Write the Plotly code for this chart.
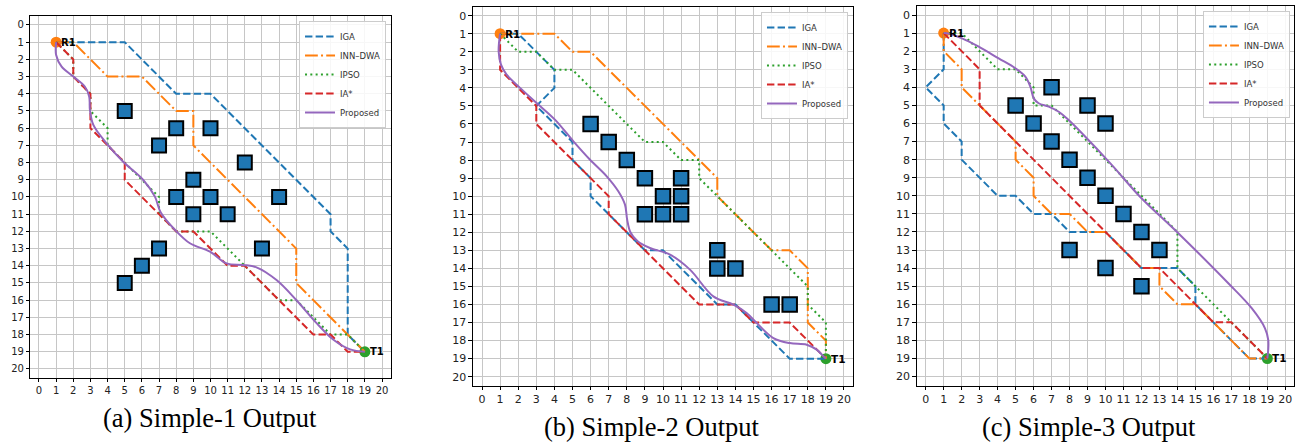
import plotly.graph_objects as go

# ---------------- data ----------------
start = [1, 1]
goal = [19, 19]
ticks = list(range(0, 21))
names = ["IGA", "INN–DWA", "IPSO", "IA*", "Proposed"]

# Simple-1
s1_obs_x = [5, 8, 10, 7, 12, 9, 8, 10, 14, 9, 11, 7, 13, 6, 5]
s1_obs_y = [5, 6, 6, 7, 8, 9, 10, 10, 10, 11, 11, 13, 13, 14, 15]
s1_iga_x = [1, 5, 8, 10, 17, 17, 18, 18, 19]
s1_iga_y = [1, 1, 4, 4, 11, 12, 13, 18, 19]
s1_dwa_x = [1, 2, 4, 6, 8, 9, 9, 15, 15, 19]
s1_dwa_y = [1, 1, 3, 3, 5, 5, 7, 13, 15, 19]
s1_pso_x = [1, 2, 2, 3, 3, 4, 4, 5, 7, 7, 8, 10, 12, 14, 15, 17, 18, 19]
s1_pso_y = [1, 2, 3, 4, 5, 6, 7, 8, 10, 11, 12, 12, 14, 16, 16, 18, 18, 19]
s1_ia_x = [1, 2, 2, 3, 3, 5, 5, 8, 9, 11, 12, 16, 17, 18, 19]
s1_ia_y = [1, 2, 3, 4, 6, 8, 9, 12, 12, 14, 14, 18, 18, 19, 19]
s1_pro_x = [1.0, 1.0, 1.32, 2.0, 2.68, 2.93, 2.97, 3.17, 3.94, 4.91, 6.08, 6.76, 7.1,
            7.94, 8.8, 9.97, 10.94, 11.9, 12.68, 13.85, 15.0, 16.2, 17.17, 18.14, 19.0]
s1_pro_y = [1.0, 1.74, 2.42, 3.0, 3.59, 4.17, 4.94, 5.81, 6.88, 7.95, 9.01, 9.98, 10.9,
            11.92, 12.69, 13.18, 13.86, 13.95, 14.09, 14.83, 15.99, 17.35, 18.3, 18.86, 19.0]

# Simple-2
s2_obs_x = [6, 7, 8, 9, 11, 10, 11, 9, 10, 11, 13, 13, 14, 16, 17]
s2_obs_y = [6, 7, 8, 9, 9, 10, 10, 11, 11, 11, 13, 14, 14, 16, 16]
s2_iga_x = [1, 2, 4, 4, 3, 5, 5, 6, 6, 8, 9, 10, 13, 14, 17, 19]
s2_iga_y = [1, 1, 3, 4, 5, 7, 8, 9, 10, 12, 13, 13, 16, 16, 19, 19]
s2_dwa_x = [1, 4, 5, 6, 13, 13, 16, 17, 18, 18, 19, 19]
s2_dwa_y = [1, 1, 2, 2, 9, 10, 13, 13, 14, 17, 18, 19]
s2_pso_x = [1, 2, 3, 4, 5, 9, 10, 11, 12, 12, 13, 16, 18, 18, 19, 19]
s2_pso_y = [1, 2, 2, 3, 3, 7, 7, 8, 8, 9, 10, 13, 15, 16, 17, 19]
s2_ia_x = [1, 1, 3, 3, 6, 7, 7, 12, 14, 15, 17, 19]
s2_ia_y = [1, 3, 5, 6, 9, 10, 11, 16, 16, 17, 17, 19]
s2_pro_x = [1.0, 0.92, 1.05, 1.36, 2.1, 3.02, 4.03, 5.05, 5.97, 6.89, 7.53, 7.9, 8.02, 8.2,
            8.6, 9.28, 10.39, 11.49, 12.78, 13.89, 14.62, 15.18, 16.1, 17.0, 17.94, 18.49,
            18.86, 19.0]
s2_pro_y = [1.0, 1.98, 2.71, 3.27, 4.0, 4.84, 5.76, 6.96, 7.98, 8.9, 9.73, 10.47, 11.3, 12.0,
            12.5, 12.87, 13.24, 14.07, 15.55, 16.01, 16.47, 17.03, 17.86, 18.14, 18.23, 18.5,
            18.87, 19.0]

# Simple-3
s3_obs_x = [7, 5, 9, 6, 10, 7, 8, 9, 10, 11, 12, 8, 13, 10, 12]
s3_obs_y = [4, 5, 5, 6, 6, 7, 8, 9, 10, 11, 12, 13, 13, 14, 15]
s3_iga_x = [1, 1, 0, 1, 1, 2, 2, 4, 5, 6, 7, 8, 10, 12, 14, 15, 15, 18, 19]
s3_iga_y = [1, 3, 4, 5, 6, 7, 8, 10, 10, 11, 11, 12, 12, 14, 14, 15, 16, 19, 19]
s3_dwa_x = [1, 1, 2, 2, 5, 5, 6, 6, 7, 8, 9, 10, 12, 13, 13, 14, 15, 18, 19]
s3_dwa_y = [1, 2, 3, 4, 7, 8, 9, 10, 11, 11, 12, 12, 14, 14, 15, 16, 16, 19, 19]
s3_pso_x = [1, 2, 3, 4, 5, 6, 6, 7, 14, 14, 19]
s3_pso_y = [1, 1, 2, 3, 3, 4, 5, 5, 12, 14, 19]
s3_ia_x = [1, 3, 3, 12, 13, 16, 17, 19]
s3_ia_y = [1, 3, 5, 14, 14, 17, 17, 19]
s3_pro_x = [1.0, 1.19, 2.02, 2.95, 4.06, 4.99, 5.54, 5.82, 6.01, 6.28, 6.84, 7.4, 7.95, 8.69,
            10.36, 11.92, 14.05, 16.83, 18.13, 18.87, 19.05, 19.05, 19.0]
s3_pro_y = [1.0, 1.01, 1.29, 1.75, 2.4, 2.95, 3.41, 3.96, 4.61, 4.88, 5.07, 5.35, 5.81, 6.54,
            8.3, 10.05, 12.07, 14.84, 16.22, 17.33, 17.97, 18.52, 19.0]

captions = ["(a) Simple-1 Output", "(b) Simple-2 Output", "(c) Simple-3 Output"]

# ---------------- styling ----------------
C_BLUE, C_ORANGE, C_GREEN, C_RED, C_PURPLE = "#1f77b4", "#ff7f0e", "#2ca02c", "#d62728", "#9467bd"
styles = [
    dict(color=C_BLUE, width=2, dash="7.4px,3.2px"),
    dict(color=C_ORANGE, width=2, dash="12.8px,3.2px,2px,3.2px"),
    dict(color=C_GREEN, width=2, dash="2px,3.3px"),
    dict(color=C_RED, width=2, dash="7.4px,3.2px"),
    dict(color=C_PURPLE, width=2),
]

panels = [
    dict(obs=(s1_obs_x, s1_obs_y),
         paths=[(s1_iga_x, s1_iga_y), (s1_dwa_x, s1_dwa_y), (s1_pso_x, s1_pso_y),
                (s1_ia_x, s1_ia_y), (s1_pro_x, s1_pro_y)],
         xdom=[0.02342, 0.30092], ydom=[0.15146, 0.96315], msize=14, tfs=10, lab=10,
         leg=(0.2974, 0.9528), cap=(0.1618, 0.0607)),
    dict(obs=(s2_obs_x, s2_obs_y),
         paths=[(s2_iga_x, s2_iga_y), (s2_dwa_x, s2_dwa_y), (s2_pso_x, s2_pso_y),
                (s2_ia_x, s2_ia_y), (s2_pro_x, s2_pro_y)],
         xdom=[0.36437, 0.65720], ydom=[0.13326, 0.98506], msize=14.5, tfs=11, lab=10.5,
         leg=(0.6533, 0.9730), cap=(0.5023, 0.0404)),
    dict(obs=(s3_obs_x, s3_obs_y),
         paths=[(s3_iga_x, s3_iga_y), (s3_dwa_x, s3_dwa_y), (s3_pso_x, s3_pso_y),
                (s3_ia_x, s3_ia_y), (s3_pro_x, s3_pro_y)],
         xdom=[0.70624, 0.99715], ydom=[0.13348, 0.98652], msize=14.5, tfs=11, lab=10.5,
         leg=(0.9938, 0.9753), cap=(0.8390, 0.0404)),
]

fig = go.Figure()
annotations = []
layout = {}

for i, p in enumerate(panels):
    n = "" if i == 0 else str(i + 1)
    xa, ya = "x" + n, "y" + n
    leg = "legend" + n

    # obstacles
    fig.add_trace(go.Scatter(
        x=p["obs"][0], y=p["obs"][1], xaxis=xa, yaxis=ya, mode="markers",
        marker=dict(symbol="square", size=p["msize"], color=C_BLUE,
                    line=dict(color="black", width=2)),
        showlegend=False, hoverinfo="skip"))
    # start / goal
    fig.add_trace(go.Scatter(
        x=[start[0]], y=[start[1]], xaxis=xa, yaxis=ya, mode="markers",
        marker=dict(size=11, color=C_ORANGE), showlegend=False, hoverinfo="skip"))
    fig.add_trace(go.Scatter(
        x=[goal[0]], y=[goal[1]], xaxis=xa, yaxis=ya, mode="markers",
        marker=dict(size=11, color=C_GREEN), showlegend=False, hoverinfo="skip"))
    # paths
    for k, (px, py) in enumerate(p["paths"]):
        shape = "spline" if k == 4 else "linear"
        fig.add_trace(go.Scatter(
            x=px, y=py, xaxis=xa, yaxis=ya, mode="lines", name=names[k],
            line=dict(shape=shape, smoothing=1.0 if k == 4 else None, **styles[k]),
            legend=leg, showlegend=True))

    for txt, pt in (("R1", start), ("T1", goal)):
        annotations.append(dict(
            x=pt[0], y=pt[1], xref=xa, yref=ya, text="<b>%s</b>" % txt, showarrow=False,
            xanchor="left", yanchor="middle", xshift=3,
            font=dict(family="DejaVu Sans", size=p["lab"], color="black")))

    annotations.append(dict(
        x=p["cap"][0], y=p["cap"][1], xref="paper", yref="paper", text=captions[i],
        showarrow=False, xanchor="center", yanchor="middle",
        font=dict(family="Liberation Serif", size=26.5, color="black")))

    axis_common = dict(
        tickmode="array", tickvals=ticks, ticktext=[str(t) for t in ticks],
        showgrid=True, gridcolor="#c6c6c6", gridwidth=1, zeroline=False,
        showline=True, mirror=True, linecolor="black", linewidth=1,
        ticks="outside", ticklen=3.5, tickwidth=1, tickcolor="black",
        tickfont=dict(family="DejaVu Sans", size=p["tfs"], color="#222"),
    )
    layout["xaxis" + n] = dict(domain=p["xdom"], anchor=ya, range=[-0.5, 20.5], **axis_common)
    layout["yaxis" + n] = dict(domain=p["ydom"], anchor=xa, range=[20.5, -0.5], **axis_common)
    layout[leg] = dict(
        x=p["leg"][0], y=p["leg"][1], xref="paper", yref="paper",
        xanchor="right", yanchor="top", bgcolor="rgba(255,255,255,0.85)",
        bordercolor="#cccccc", borderwidth=1, itemwidth=30, tracegroupgap=0,
        font=dict(family="DejaVu Sans", size=8.5, color="#333"))

fig.update_layout(
    width=1298, height=445, margin=dict(l=0, r=0, t=0, b=0),
    paper_bgcolor="white", plot_bgcolor="white",
    annotations=annotations, **layout)

fig.write_html("out.html")
